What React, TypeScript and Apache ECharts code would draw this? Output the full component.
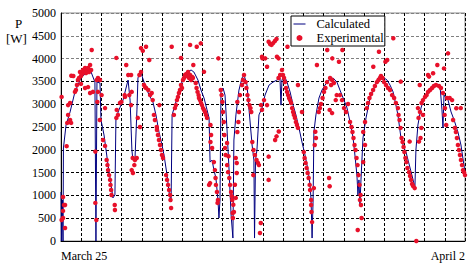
import React, { useEffect, useRef } from "react";
import * as echarts from "echarts";

// x axis: time in grid units (0 = March 25, 20 = April 2); y: power [W]
const yTicks = [0, 500, 1000, 1500, 2000, 2500, 3000, 3500, 4000, 4500, 5000];
const xLabelStart = "March 25";
const xLabelEnd = "April 2";

const calcTime = [
  0, 0.02, 0.07, 0.1, 0.12, 0.25, 0.45, 0.69, 0.99, 1.19, 1.34, 1.49, 1.68, 1.73, 1.78, 1.93, 1.98, 2.13, 2.33, 2.48,
  2.57, 2.67, 2.72, 2.87, 3.07, 3.22, 3.32, 3.42, 3.51, 3.56, 3.66, 3.76, 3.81, 3.91, 4.01, 4.16, 4.36, 4.55, 4.7, 4.85,
  5.0, 5.1, 5.25, 5.35, 5.45, 5.5, 5.64, 5.79, 5.94, 6.09, 6.24, 6.44, 6.58, 6.78, 6.93, 7.08, 7.23, 7.33, 7.38, 7.48,
  7.57, 7.67, 7.77, 7.82, 7.87, 7.92, 8.02, 8.12, 8.22, 8.32, 8.42, 8.51, 8.56, 8.66, 8.81, 8.96, 9.06, 9.21, 9.31, 9.46,
  9.55, 9.58, 9.63, 9.7, 9.8, 9.95, 10.1, 10.3, 10.5, 10.69, 10.84, 10.89, 10.94, 11.04, 11.19, 11.34, 11.49, 11.63, 11.78, 11.93,
  12.08, 12.23, 12.33, 12.38, 12.43, 12.48, 12.52, 12.62, 12.77, 12.92, 13.07, 13.27, 13.47, 13.66, 13.81, 14.01, 14.16, 14.31, 14.46, 14.55,
  14.65, 14.7, 14.75, 14.8, 14.85, 14.95, 15.1, 15.3, 15.5, 15.69, 15.94, 16.14, 16.29, 16.44, 16.58, 16.68, 16.83, 16.98, 17.08, 17.18,
  17.33, 17.43, 17.52, 17.57, 17.67, 17.82, 17.97, 18.17, 18.37, 18.56, 18.76, 18.86, 18.91, 18.96, 19.06, 19.16, 19.31, 19.46, 19.65, 19.8,
  20,
];
const calcPower = [
  1075, 0, 900, 0, 2040, 2545, 2830, 3270, 3575, 3660, 3750, 3705, 3485, 0, 3485, 3465, 2655, 2325, 1665, 1230,
  945, 1010, 2700, 2875, 3090, 3355, 3530, 3090, 1995, 1775, 1775, 2875, 3575, 3705, 3620, 3420, 3200, 3050, 2765, 2390,
  2105, 1885, 1445, 1075, 855, 2765, 2980, 3200, 3420, 3620, 3705, 3750, 3705, 3530, 3310, 3135, 2875, 2700, 1730, 1775,
  1555, 1380, 900, 505, 900, 3270, 3355, 3200, 2435, 1555, 570, 65, 2215, 2765, 3310, 3575, 3640, 3420, 2875, 2105,
  1775, 65, 1775, 1995, 2765, 2915, 3200, 3420, 3485, 3530, 3575, 2980, 3530, 3640, 3485, 3270, 2980, 2765, 2480, 2170,
  1885, 1555, 1230, 900, 65, 900, 2390, 2765, 3135, 3310, 3420, 3530, 3575, 3485, 3310, 3090, 2915, 2610, 2260, 1885,
  1445, 1010, 1340, 790, 1340, 2260, 2700, 3135, 3355, 3575, 3595, 3530, 3420, 3270, 2980, 2765, 2260, 2040, 1950, 1775,
  1515, 1340, 1160, 1995, 2545, 2915, 3135, 3270, 3400, 3445, 3420, 2875, 2480, 3200, 3135, 3090, 2830, 2655, 2390, 2105,
  1500,
];

const expTime = [
  // day 1
  0.03, 0.1, 0.15, 0.1, 0.03, 0.2, 0.1, 0.2, 0.28, 0.31, 0.35, 0.45, 0.5, 0.35, 0.45, 0.51, 0.61, 0.69, 0.74, 0.79,
  0.84, 0.89, 0.94, 0.99, 1.04, 1.09, 1.14, 1.19, 1.24, 1.29, 1.34, 1.39, 1.44, 1.49, 1.52, 1.19, 1.34, 1.44, 1.58, 0.99,
  1.77, 1.83, 1.93, 1.83, 1.8, 1.7, 1.7, 1.75, 1.92, 2.01, 2.08, 2.18, 2.18, 2.26, 2.3, 2.33, 2.38, 2.43, 2.45, 2.48,
  2.5, 2.66, 2.67, 2.74,
  // day 2
  2.74, 2.76, 2.82, 2.92, 2.99, 3.15, 3.17, 3.23, 3.33, 3.38, 3.47, 3.5, 3.47, 3.5, 3.56, 3.55, 3.63, 3.66, 3.75, 3.8,
  3.91, 3.88, 3.96, 3.96, 4.05, 4.21, 4.37, 4.11, 4.16, 4.21, 4.32, 4.41, 4.49, 4.54, 4.87, 4.6, 4.65, 4.74, 4.75, 4.8,
  4.85, 4.9, 4.95, 5.0, 5.05, 5.2, 5.25, 5.3, 5.35, 5.4, 5.45, 5.42,
  // day 3
  5.48, 5.59, 5.64, 5.69, 5.74, 5.79, 5.84, 5.89, 5.94, 5.99, 6.04, 6.09, 6.14, 6.19, 6.24, 6.29, 6.34, 6.39, 6.44, 6.49,
  6.53, 5.94, 6.39, 6.55, 6.72, 6.92, 7.08, 6.67, 6.71, 6.76, 6.81, 6.83, 6.88, 6.93, 6.98, 7.03, 7.08, 7.13, 7.18, 7.23,
  7.4, 7.43, 7.4, 7.48, 7.33, 7.38, 7.57, 7.62, 7.65, 7.67, 7.72, 7.77, 7.75,
  // day 4
  7.79, 7.91, 7.95, 7.99, 8.02, 8.06, 8.09, 8.12, 8.15, 8.22, 8.22, 8.29, 8.27, 8.33, 8.37, 8.42, 8.45, 8.48, 8.53, 8.5,
  8.56, 8.51, 8.61, 8.65, 8.7, 8.7, 8.65, 8.73, 8.78, 8.81, 8.73, 8.86, 8.96, 9.01, 9.06, 9.14, 9.18, 9.23, 9.28, 9.33,
  9.38, 9.42, 9.47, 9.53, 9.6, 9.68, 9.75, 9.8, 9.52, 9.85, 9.89, 9.97,
  // day 5
  9.95, 10.11, 10.2, 10.28, 10.35, 10.42, 10.5, 10.59, 10.67, 10.69, 10.77, 11.21, 10.28, 10.28, 10.6, 10.67, 10.78, 9.9, 9.95, 10.05,
  10.94, 10.99, 11.04, 11.09, 11.14, 11.19, 11.24, 11.29, 11.34, 11.39, 11.44, 11.49, 11.53, 11.58, 11.63, 11.68, 11.73, 11.73, 11.93, 12.02,
  12.06, 12.11, 12.16, 12.21, 12.26, 12.31, 12.33, 12.38, 12.38, 12.4, 12.43, 10.2, 10.77, 10.85,
  // day 6
  12.52, 12.59, 12.62, 12.56, 12.67, 12.76, 12.82, 12.87, 12.95, 13.02, 13.09, 13.17, 13.18, 13.27, 13.3, 13.3, 13.37, 13.42, 13.43, 13.76,
  13.93, 13.32, 13.42, 13.51, 13.65, 13.6, 13.81, 13.91, 14.01, 14.11, 14.21, 14.31, 14.38, 14.43, 14.48, 14.53, 14.58, 14.63, 14.68, 14.73,
  14.78, 14.83, 14.8, 14.85, 14.88, 14.69, 14.96, 15.05, 14.96, 15.05,
  // day 7
  15.14, 15.2, 15.27, 15.35, 15.45, 15.54, 15.64, 15.72, 15.79, 15.84, 15.92, 15.99, 16.09, 16.19, 16.29, 16.39, 16.49, 16.58, 16.68, 15.46,
  15.74, 16.06, 16.15, 16.45, 16.82, 16.71, 16.76, 16.81, 16.86, 16.91, 16.96, 17.0, 17.05, 17.1, 17.15, 17.26, 17.23, 17.28, 17.33, 17.38,
  17.43, 17.51, 17.59,
  // day 8
  17.67, 17.7, 17.76, 17.77, 17.85, 17.92, 18.02, 18.1, 18.17, 18.17, 18.22, 18.27, 18.37, 18.42, 18.46, 18.56, 18.63, 18.71, 18.81, 18.91,
  18.96, 18.99, 19.07, 19.01, 19.11, 19.16, 19.24, 19.36, 19.57, 19.79, 19.55, 19.6, 19.65, 19.7, 19.75, 19.8, 19.85, 19.9, 19.95, 20,
  19.5, 19.41, 17.72, 17.8, 17.84, 17.92,
];
const expPower = [
  // day 1
  3160, 965, 790, 660, 460, 285, 505, 790, 2080, 2590, 2765, 2655, 2590, 2980, 3025, 3625, 3620, 3270, 3310, 3420,
  3530, 3575, 3705, 3620, 3660, 3750, 3705, 3795, 3685, 3750, 3795, 3705, 3860, 3750, 4190, 3355, 3375, 3245, 3270, 3445,
  3530, 3575, 3530, 3270, 3050, 1960, 835, 460, 2655, 3200, 2215, 2085, 2915, 1775, 1665, 1555, 1445, 1340, 1230, 1120,
  1010, 790, 680, 4015,
  // day 2
  2700, 2875, 2765, 3025, 3050, 3200, 3160, 3860, 3640, 3200, 2980, 3270, 3640, 1555, 1490, 1820, 1665, 1775, 1820, 2700,
  2500, 3640, 3705, 4230, 4170, 4260, 3970, 3420, 3375, 3355, 3310, 3200, 3245, 3090, 2980, 2765, 2655, 2500, 2435, 2325,
  2215, 2105, 1995, 1885, 1820, 1445, 1340, 1230, 1120, 1010, 725, 900,
  // day 3
  4260, 2765, 2915, 2980, 3090, 3160, 3245, 3310, 3420, 3355, 3530, 3575, 3640, 3660, 3620, 3705, 3575, 3640, 3530, 3595,
  3575, 4015, 4300, 3860, 4260, 4335, 3710, 3465, 3355, 3270, 3200, 3135, 3090, 3025, 2980, 2915, 2875, 2830, 2765, 2700,
  2545, 2325, 2170, 2040, 1230, 1270, 1730, 1555, 1380, 1230, 1075, 900, 835,
  // day 4
  4005, 3310, 3200, 3050, 2830, 2610, 2325, 2040, 1885, 2150, 1665, 1860, 1510, 1380, 1230, 1075, 985, 900, 795, 615,
  635, 505, 1235, 945, 1490, 1710, 1820, 2390, 2610, 2830, 3050, 3200, 3420, 3530, 3640, 3485, 3355, 3200, 3090, 2980,
  2915, 2830, 2170, 1995, 1885, 1775, 1710, 1665, 1445, 175, 395, 4005,
  // day 5
  4040, 4005, 3820, 4370, 4320, 4300, 4340, 4385, 4430, 4040, 4005, 4260, 1850, 1340, 2215, 2295, 2400, 2980, 2875, 3090,
  3750, 3640, 3575, 3485, 3355, 3270, 3200, 3135, 3090, 3025, 2915, 2830, 2765, 2700, 2610, 2545, 2480, 3420, 2830, 1950,
  1820, 1710, 1600, 1490, 1380, 1230, 1120, 900, 790, 635, 415, 2980, 3575, 3640,
  // day 6
  1160, 2395, 2260, 2105, 3860, 2830, 2915, 3005, 3135, 3270, 3355, 3485, 4190, 1380, 1200, 2875, 3420, 2805, 4005, 3930,
  4190, 3575, 3530, 3465, 3200, 3090, 3200, 3090, 2915, 2830, 3005, 2610, 2500, 2390, 2260, 2105, 1995, 1820, 1665, 1445,
  1230, 1010, 900, 790, 505, 240, 1730, 2105, 2390, 2610,
  // day 7
  2915, 3025, 3135, 3225, 3310, 3400, 3485, 3530, 3575, 3620, 3575, 3485, 3420, 3355, 3310, 3200, 3135, 3025, 2915, 3820,
  4150, 3930, 3970, 4445, 3495, 2765, 2655, 2480, 2260, 2170, 2060, 1950, 1820, 1730, 1600, 2180, 1510, 1425, 1340, 1250,
  1205, 1160, 0,
  // day 8
  2915, 2700, 3420, 2830, 3025, 3090, 3160, 3200, 3270, 3640, 3605, 3310, 3355, 3680, 3400, 3420, 3860, 3400, 3355, 3245,
  3785, 2765, 2545, 2915, 3135, 4115, 3135, 3090, 2910, 2915, 2390, 2260, 2105, 1995, 1885, 1775, 1665, 1555, 1510, 1445,
  2480, 2655, 2180, 2260, 2480, 2765,
];

const FONT = "'Liberation Serif', 'Times New Roman', serif";

export default function App() {
  const ref = useRef<HTMLDivElement>(null);
  useEffect(() => {
    if (!ref.current) return;
    const chart = echarts.init(ref.current, null, { renderer: "svg" });
    const calcData = calcTime.map((t, i) => [t, calcPower[i]]);
    const expData = expTime.map((t, i) => [t, expPower[i]]);
    const hColors = yTicks.map((v) => (v >= 4000 ? "#808080" : "#000000"));
    chart.setOption({
      animation: false,
      backgroundColor: "#ffffff",
      grid: {
        left: 61,
        right: 9,
        top: 13,
        bottom: 25,
        show: true,
        borderColor: "#8c8c8c",
        borderWidth: 1,
        backgroundColor: "transparent",
      },
      xAxis: {
        type: "value",
        min: 0,
        max: 20,
        interval: 1,
        axisLine: { show: true, lineStyle: { color: "#000", width: 1 } },
        axisTick: { show: false },
        splitLine: { show: true, lineStyle: { color: "#000", width: 1, type: [3, 2] } },
        axisLabel: {
          show: true,
          margin: 9,
          fontFamily: FONT,
          fontSize: 12,
          color: "#000",
          alignMinLabel: "left",
          alignMaxLabel: "right",
          formatter: (v: number) => (v === 0 ? xLabelStart : v === 20 ? xLabelEnd : ""),
        },
      },
      yAxis: {
        type: "value",
        min: 0,
        max: 5000,
        interval: 500,
        axisLine: { show: true, lineStyle: { color: "#000", width: 1 } },
        axisTick: { show: false },
        splitLine: { show: true, lineStyle: { color: hColors, width: 1, type: [3, 2] } },
        axisLabel: {
          margin: 5,
          fontFamily: FONT,
          fontSize: 12,
          color: "#000",
          formatter: (v: number) => String(v),
        },
      },
      legend: {
        left: 291,
        top: 16,
        orient: "vertical",
        backgroundColor: "#fff",
        borderColor: "#000",
        borderWidth: 1,
        borderRadius: 0,
        padding: [1, 1, 1, 2],
        itemGap: 0,
        itemWidth: 12,
        itemHeight: 6,
        data: [
          {
            name: "Calculated",
            itemStyle: { color: "rgba(0,0,0,0)", borderWidth: 0, opacity: 0 },
            lineStyle: { width: 1, color: "#000080" },
          },
          { name: "Experimental" },
        ],
        textStyle: {
          fontFamily: FONT,
          fontSize: 12.5,
          color: "#000",
          lineHeight: 14,
          rich: { a: { fontFamily: FONT, fontSize: 12.5, color: "#000", padding: [0, 0, 0, 6], lineHeight: 14 } },
        },
        formatter: (name: string) => "{a|" + name + "}",
      },
      graphic: [
        { type: "text", left: 15, top: 17, style: { text: "P", font: "13px " + FONT, fill: "#000" } },
        { type: "text", left: 6, top: 32, style: { text: "[W]", font: "13px " + FONT, fill: "#000" } },
      ],
      series: [
        {
          name: "Calculated",
          type: "line",
          data: calcData,
          showSymbol: false,
          symbol: "none",
          lineStyle: { color: "#000080", width: 1 },
          itemStyle: { color: "#000080" },
          z: 2,
        },
        {
          name: "Experimental",
          type: "scatter",
          data: expData,
          symbol: "circle",
          symbolSize: 4.5,
          itemStyle: { color: "#e8102a", opacity: 1 },
          z: 3,
        },
      ],
    });
    return () => chart.dispose();
  }, []);
  return <div ref={ref} style={{ position: "fixed", left: 0, top: 0, width: 474, height: 266 }} />;
}
